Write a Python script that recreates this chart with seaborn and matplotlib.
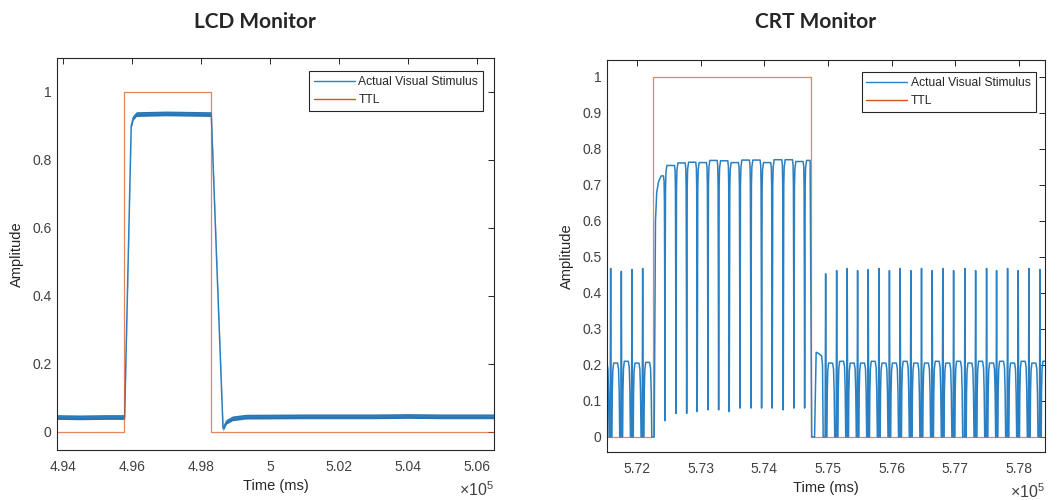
import numpy as np
import pandas as pd
import matplotlib
matplotlib.use("Agg")
import matplotlib.pyplot as plt
from matplotlib.ticker import FuncFormatter, FixedLocator
import seaborn as sns

# ---------------- data ----------------
# LCD monitor
lcd_ttl_t = [493830, 495780, 495780, 498300, 498300, 506490]
lcd_ttl_v = [0, 0, 1, 1, 0, 0]
lcd_t = [493830, 494500, 495200, 495790, 495980, 496040, 496130, 497000,
         498300, 498450, 498640, 498735, 498910, 499290, 501000, 503000,
         504000, 505000, 506490]
lcd_v = [0.044, 0.043, 0.044, 0.044, 0.90, 0.925, 0.935, 0.937,
         0.935, 0.52, 0.01, 0.03, 0.04, 0.045, 0.046, 0.046,
         0.047, 0.046, 0.046]

# CRT monitor
crt_ttl_t = [571530, 572251, 572251, 574730, 574730, 578410]
crt_ttl_v = [0, 0, 1, 1, 0, 0]
# refresh spikes before the stimulus
crt_pre_spike_t = [571420, 571587, 571755, 571922, 572090]
crt_pre_spike_v = [0.47, 0.468, 0.46, 0.465, 0.468]
crt_pre_arc_v = [0.205, 0.205, 0.21, 0.205, 0.207]
# during the stimulus: dips between refresh plateaus
crt_on_trough_t = [572440, 572613, 572781, 572947, 573115, 573283, 573450,
                   573618, 573790, 573958, 574125, 574298, 574466, 574634]
crt_on_trough_v = [0.045, 0.065, 0.065, 0.07, 0.075, 0.075, 0.07,
                   0.08, 0.08, 0.08, 0.08, 0.075, 0.08, 0.08]
crt_on_top_v = [0.725, 0.754, 0.761, 0.763, 0.762, 0.768, 0.767, 0.762,
                0.769, 0.769, 0.762, 0.77, 0.77, 0.765, 0.768]
# after the stimulus
crt_decay_t = [574745, 574790, 574815, 574850, 574900, 574915, 574925]
crt_decay_v = [0.0, 0.0, 0.235, 0.232, 0.225, 0.2, 0.0]
crt_post_spike_t = [574964, 575137, 575303, 575466, 575633, 575801, 575966,
                    576135, 576302, 576470, 576638, 576804, 576974, 577152,
                    577320, 577492, 577649, 577822, 577989, 578157, 578330]
crt_post_spike_v = [0.453, 0.462, 0.468, 0.462, 0.465, 0.468, 0.462,
                    0.468, 0.462, 0.468, 0.462, 0.468, 0.462, 0.468,
                    0.462, 0.468, 0.462, 0.468, 0.462, 0.468, 0.465]
crt_post_arc_v = [0.205, 0.21, 0.205, 0.205, 0.21, 0.205, 0.205,
                  0.21, 0.205, 0.205, 0.21, 0.205, 0.21, 0.205,
                  0.21, 0.205, 0.21, 0.205, 0.21, 0.205, 0.21]

BLUE = "#2a80c2"
BLUE_DARK = "#1565a8"
ORANGE = "#D95319"

# ---------------- build CRT trace from per-cycle values ----------------
P = float(np.median(np.diff(crt_post_spike_t)))


def off_cycles(times, spikes, arcs):
    xs, ys = [], []
    for t, s, a in zip(times, spikes, arcs):
        pts = [(-0.05, 0.0), (0.0, s), (0.05, 0.0), (0.12, 0.0),
               (0.15, 0.6 * a), (0.2, 0.9 * a), (0.28, a), (0.65, a),
               (0.74, 0.92 * a), (0.8, 0.6 * a), (0.85, 0.0)]
        for f, v in pts:
            xs.append(t + f * P)
            ys.append(v)
    return xs, ys


crt_x, crt_y = off_cycles(crt_pre_spike_t, crt_pre_spike_v, crt_pre_arc_v)
# stimulus onset
t0 = crt_ttl_t[1]
top0 = crt_on_top_v[0]
crt_x += [t0 + 20, t0 + 40, t0 + 60, t0 + 90, t0 + 130]
crt_y += [0.0, 0.6, 0.68, 0.71, top0]
for i, (T, v) in enumerate(zip(crt_on_trough_t, crt_on_trough_v)):
    tb = crt_on_top_v[i]
    ta = crt_on_top_v[i + 1]
    pts = [(-0.14, tb), (-0.08, tb - 0.015), (-0.05, tb - 0.07), (-0.025, 0.45),
           (0.0, v), (0.025, 0.45), (0.05, ta - 0.07), (0.09, ta - 0.02),
           (0.18, ta)]
    for f, val in pts:
        crt_x.append(T + f * P)
        crt_y.append(val)
crt_x += [crt_ttl_t[3] - 10]
crt_y += [crt_on_top_v[-1]]
crt_x += crt_decay_t
crt_y += crt_decay_v
px, py = off_cycles(crt_post_spike_t, crt_post_spike_v, crt_post_arc_v)
crt_x += px
crt_y += py

# ---------------- figure ----------------
sns.set_theme(style="white")
plt.rcParams["font.family"] = ["Liberation Sans", "DejaVu Sans"]
plt.rcParams["mathtext.fontset"] = "custom"
plt.rcParams["mathtext.rm"] = "Liberation Sans"
plt.rcParams["mathtext.it"] = "Liberation Sans:italic"

fig = plt.figure(figsize=(10.59, 5.0), dpi=100)
fig.patch.set_facecolor("white")
axL = fig.add_axes([0.0538, 0.100, 0.4127, 0.784])
axR = fig.add_axes([0.5732, 0.096, 0.4136, 0.784])

# LCD
axL.fill_between(lcd_t, np.array(lcd_v) - 0.007, np.array(lcd_v) + 0.007,
                 color=BLUE_DARK, linewidth=0, alpha=0.9)
sns.lineplot(x=lcd_t, y=lcd_v, ax=axL, estimator=None, sort=False,
             color=BLUE, linewidth=1.1, label="Actual Visual Stimulus")
sns.lineplot(x=lcd_ttl_t, y=lcd_ttl_v, ax=axL, estimator=None, sort=False,
             color=ORANGE, linewidth=0.9, alpha=0.7, label="TTL")

# CRT
sns.lineplot(x=crt_x, y=crt_y, ax=axR, estimator=None, sort=False,
             color=BLUE, linewidth=1.1, label="Actual Visual Stimulus")
sns.lineplot(x=crt_ttl_t, y=crt_ttl_v, ax=axR, estimator=None, sort=False,
             color=ORANGE, linewidth=0.9, alpha=0.7, label="TTL")

fmt = FuncFormatter(lambda x, p: f"{x / 1e5:g}")
cfg = [
    (axL, (493830, 506490), (-0.053, 1.1), np.arange(494000, 506001, 2000),
     [0, 0.2, 0.4, 0.6, 0.8, 1.0], (0.975, 0.967)),
    (axR, (571530, 578410), (-0.042, 1.047), np.arange(572000, 578001, 1000),
     [0, 0.1, 0.2, 0.3, 0.4, 0.5, 0.6, 0.7, 0.8, 0.9, 1.0], (0.979, 0.969)),
]
for ax, xl, yl, xt, yt, lg in cfg:
    ax.set_xlim(*xl)
    ax.set_ylim(*yl)
    ax.xaxis.set_major_locator(FixedLocator(xt))
    ax.yaxis.set_major_locator(FixedLocator(yt))
    ax.xaxis.set_major_formatter(fmt)
    ax.yaxis.set_major_formatter(FuncFormatter(lambda y, p: f"{y:g}"))
    ax.tick_params(axis="both", direction="in", top=True, right=True,
                   length=4, width=0.7, color="#262626",
                   labelsize=10, labelcolor="#404040")
    ax.tick_params(axis="x", pad=7)
    ax.tick_params(axis="y", pad=4)
    for s in ax.spines.values():
        s.set_visible(True)
        s.set_color("#262626")
        s.set_linewidth(0.8)
    ax.set_xlabel("Time (ms)", fontsize=10.5, color="#262626", labelpad=4)
    ax.set_ylabel("Amplitude", fontsize=10.5, color="#262626", labelpad=6)
    ax.text(1.0, -0.102, r"$\times10^{5}$", transform=ax.transAxes,
            ha="right", va="center", fontsize=11.5, color="#404040")
    leg = ax.legend(loc="upper right", bbox_to_anchor=lg, fontsize=8.7,
                    handlelength=3.4, handletextpad=0.3, borderpad=0.4,
                    labelspacing=0.5, frameon=True, fancybox=False,
                    framealpha=1, edgecolor="#262626", borderaxespad=0)
    leg.get_frame().set_linewidth(0.8)
    for line in leg.get_lines():
        line.set_alpha(1)
        line.set_linewidth(1.0)

fig.text(255 / 1059, 1 - 22 / 500, "LCD Monitor", ha="center", va="center",
         fontsize=15, fontweight="bold", family=["Lato", "DejaVu Sans"])
fig.text(816 / 1059, 1 - 22 / 500, "CRT Monitor", ha="center", va="center",
         fontsize=15, fontweight="bold", family=["Lato", "DejaVu Sans"])

fig.savefig("out.png", dpi=100, facecolor="white")
